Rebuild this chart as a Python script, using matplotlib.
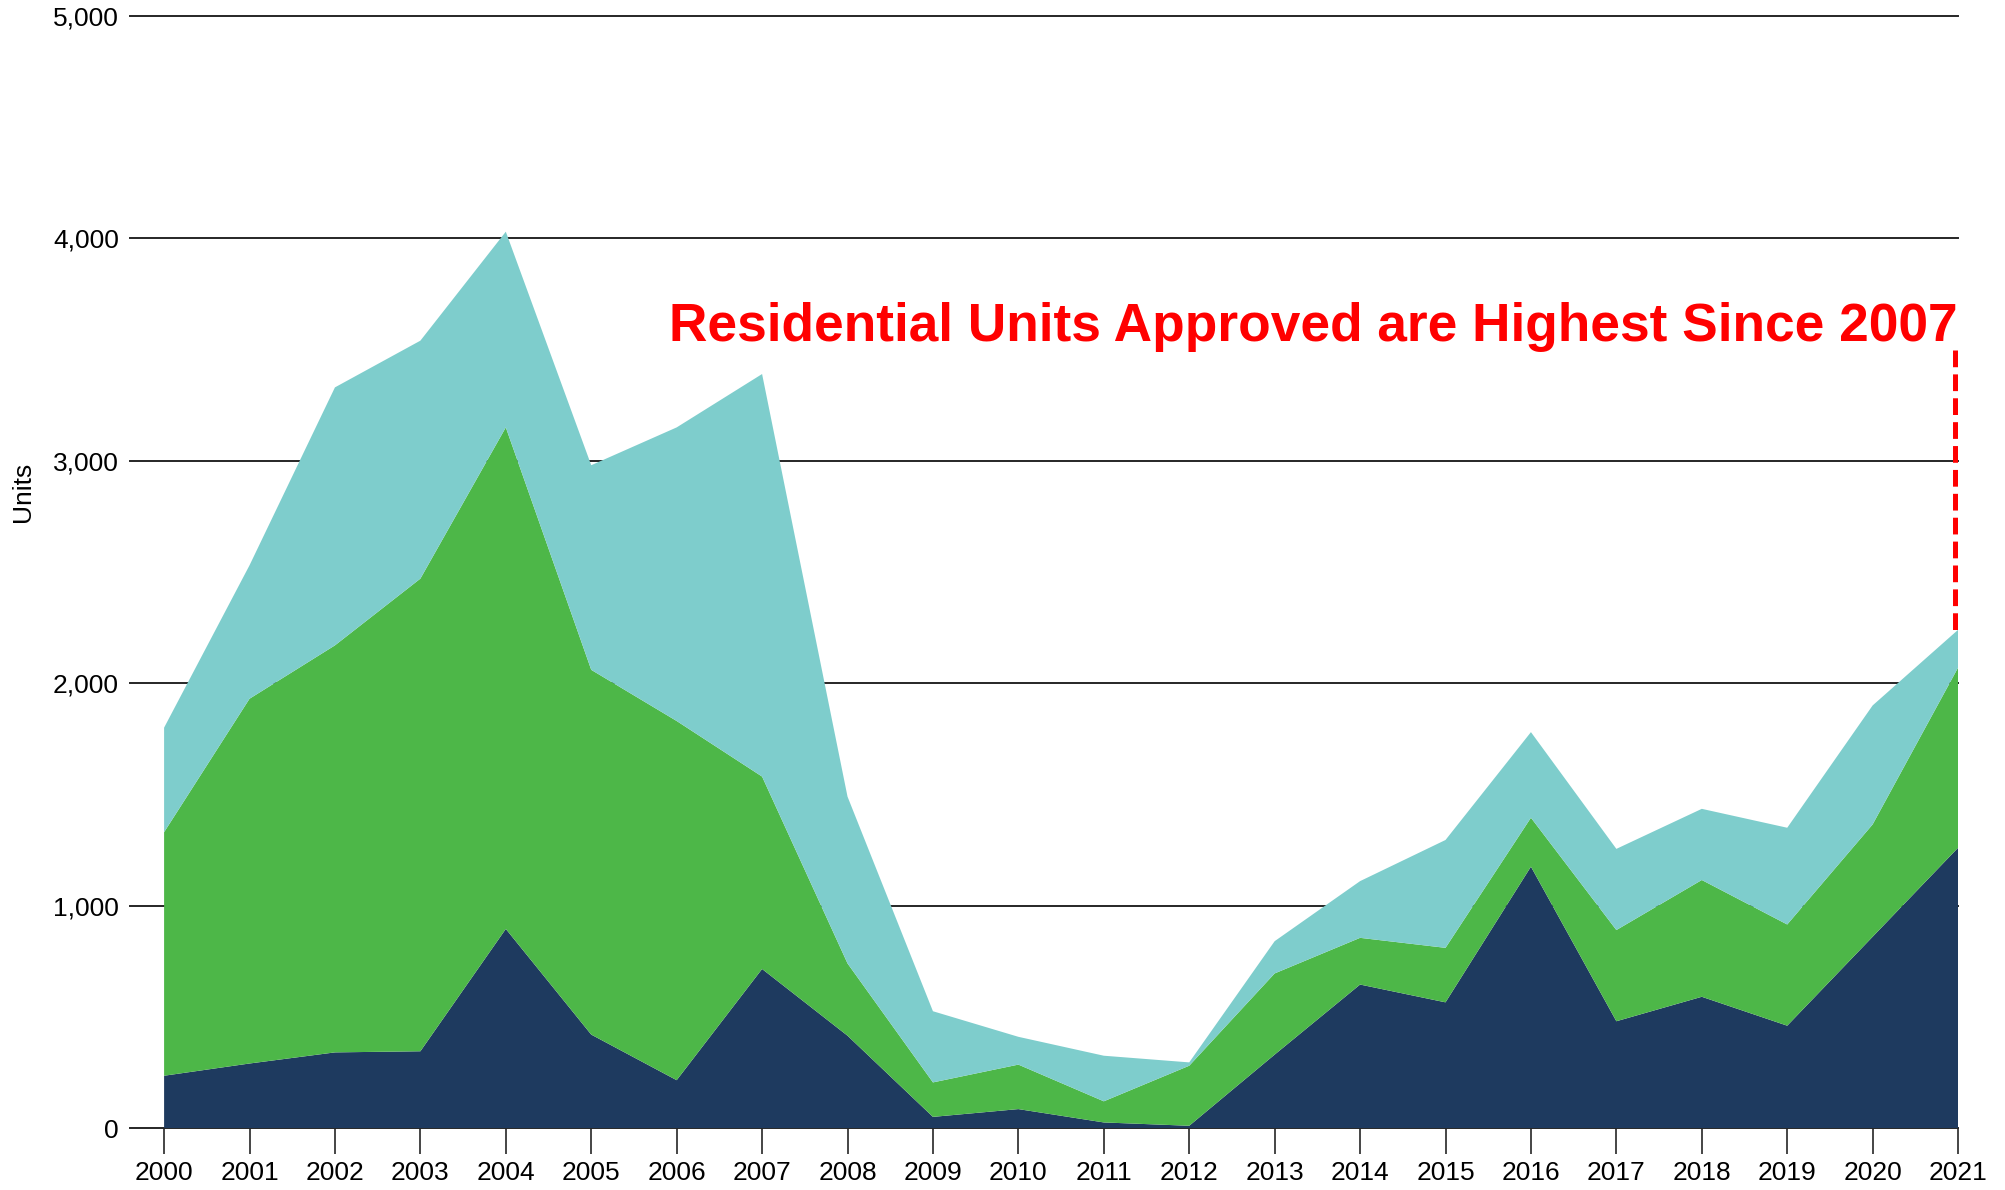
import matplotlib.pyplot as plt
import numpy as np

plt.rcParams['font.family'] = ['Liberation Sans', 'DejaVu Sans']

years = list(range(2000, 2022))

# stacked layers, bottom to top (units approved per year)
navy_units = [235, 290, 340, 345, 895, 420, 215, 715, 415, 50, 85,
              25, 10, 330, 645, 565, 1175, 480, 590, 460, 860, 1260]
green_units = [1095, 1640, 1830, 2125, 2255, 1640, 1615, 865, 325, 155, 200,
               95, 270, 365, 210, 245, 220, 410, 525, 455, 505, 810]
teal_units = [470, 600, 1160, 1070, 880, 920, 1320, 1810, 750, 320, 125,
              205, 15, 145, 255, 485, 385, 365, 320, 435, 535, 170]

y_ticks = [0, 1000, 2000, 3000, 4000, 5000]
note = 'Residential Units Approved are Highest Since 2007'

fig = plt.figure(figsize=(20.05, 11.9), dpi=100)
ax = fig.add_axes([0.0648, 0.0521, 0.9766 - 0.0648, 0.9866 - 0.0521])

ax.stackplot(years, navy_units, green_units, teal_units,
             colors=['#1E3A5F', '#4DB748', '#7ECDCC'], zorder=2)

x = np.array(years)
total = np.array(navy_units) + np.array(green_units) + np.array(teal_units)

ax.set_xlim(1999.6, 2021)
ax.set_ylim(0, 5000)
ax.set_yticks(y_ticks)
ax.set_yticklabels([f'{v:,}' for v in y_ticks])
ax.set_xticks(years)
ax.set_xticklabels([str(v) for v in years])

ax.grid(axis='y', color='#262626', linewidth=1.4, zorder=1)
for gl in ax.get_ygridlines():
    gl.set_clip_on(False)
for s in ax.spines.values():
    s.set_visible(False)

ax.tick_params(axis='y', length=0, pad=8, labelsize=19, colors='#000000')
ax.tick_params(axis='x', length=18.5, width=1.2, color='#262626', pad=5,
               labelsize=19, direction='out')

fig.text(23 / 2005, 1 - 492 / 1190, 'Units', fontsize=19, rotation=90,
         ha='center', va='center')

# dashed marker from the 2021 peak up to the note
ax.plot([x[-1] - 0.03, x[-1] - 0.03], [total[-1], 3500], color='#FF0000',
        linewidth=4.3, linestyle=(0, (2.8, 1.2)), zorder=3)
ax.text(x[-1], 3540, note, color='#FF0000', fontsize=38.3, fontweight='bold',
        ha='right', va='baseline', zorder=4)

fig.savefig('out.png', dpi=100)
